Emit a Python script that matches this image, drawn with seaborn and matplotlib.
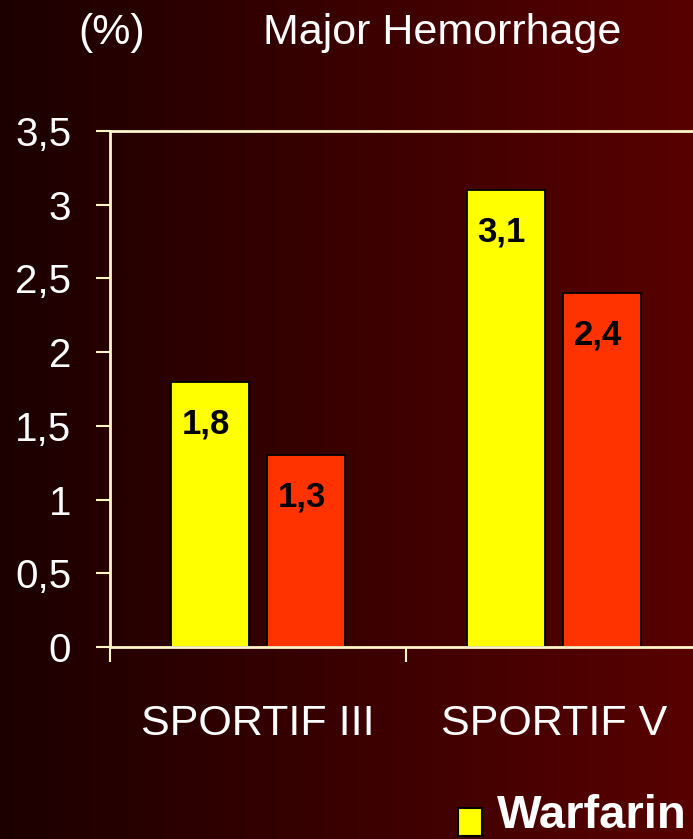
import numpy as np
import pandas as pd
import matplotlib
matplotlib.use("Agg")
import matplotlib.pyplot as plt
from matplotlib.ticker import FuncFormatter, FixedLocator
from matplotlib.patches import Rectangle
from matplotlib.colors import LinearSegmentedColormap
import seaborn as sns

trials = ["SPORTIF III", "SPORTIF V"]
drugs = ["Warfarin", "Ximelagatran"]
warfarin = [1.8, 3.1]
ximelagatran = [1.3, 2.4]
yticks = [0, 0.5, 1, 1.5, 2, 2.5, 3, 3.5]

df = pd.DataFrame({
    "trial": trials * 2,
    "drug": [drugs[0]] * 2 + [drugs[1]] * 2,
    "value": warfarin + ximelagatran,
})

sns.set_theme(style="white")
plt.rcParams["font.family"] = ["Liberation Sans", "DejaVu Sans"]

W, H = 693, 839
fig = plt.figure(figsize=(W / 100, H / 100), dpi=100)

# background gradient
bg = fig.add_axes([0, 0, 1, 1], zorder=-10)
grad = np.linspace(0, 1, 256)[None, :]
cmap = LinearSegmentedColormap.from_list("bg", ["#1c0000", "#3a0000", "#580000"])
bg.imshow(grad, aspect="auto", cmap=cmap, extent=[0, 1, 0, 1])
bg.set_axis_off()

x0, x1 = 110 / W, 1.0
y0, y1 = 1 - 647 / H, 1 - 131 / H
ax = fig.add_axes([x0, y0, x1 - x0, y1 - y0])
ax.set_facecolor("none")

yellow, red = "#FFFF00", "#FF3300"
sns.barplot(data=df, x="trial", y="value", hue="drug", palette=[yellow, red],
            saturation=1, width=0.65, gap=0.19, edgecolor="black", linewidth=1.3,
            legend=False, ax=ax)

ax.set_ylim(0, 3.5)
ax.set_xlim(-0.5, 1.47)
spine_c = "#FFF6C8"
for s in ["left", "top", "bottom"]:
    ax.spines[s].set_visible(True)
    ax.spines[s].set_color(spine_c)
    ax.spines[s].set_linewidth(2)
ax.spines["right"].set_visible(False)

ax.yaxis.set_major_locator(FixedLocator(yticks))
ax.yaxis.set_major_formatter(FuncFormatter(lambda v, p: f"{v:g}".replace(".", ",")))
ax.tick_params(axis="y", which="major", left=True, length=10, width=1.5, color=spine_c,
               labelcolor="white", labelsize=29, pad=18)

ax.xaxis.set_major_locator(FixedLocator([-0.5, 0.5, 1.5]))
ax.xaxis.set_minor_locator(FixedLocator([0, 1]))
ax.set_xticklabels([])
ax.set_xticks([0, 1], labels=trials, minor=True)
ax.tick_params(axis="x", which="major", bottom=True, length=11, width=1.5, color=spine_c)
ax.tick_params(axis="x", which="minor", bottom=True, length=0, labelcolor="white",
               labelsize=31, pad=41)
ax.set_xlabel("")
ax.set_ylabel("")

for p in ax.patches:
    h = p.get_height()
    if h <= 0:
        continue
    ax.text(p.get_x() + p.get_width() / 2 - 0.015, h - 0.285, f"{h:.1f}".replace(".", ","),
            ha="center", va="center", fontsize=25, fontweight="bold", color="black")

fig.text(78 / W, 1 - 44 / H, "(%)", color="white", fontsize=31, va="baseline", ha="left")
fig.text(263 / W, 1 - 44 / H, "Major Hemorrhage", color="white", fontsize=31,
         va="baseline", ha="left")

# legend
fig.patches.append(Rectangle((458 / W, 1 - 836 / H), 24 / W, 28 / H, transform=fig.transFigure,
                             facecolor=yellow, edgecolor="black", linewidth=1.5))
fig.text(497 / W, 1 - 828 / H, "Warfarin", color="white", fontsize=34, fontweight="bold",
         va="baseline", ha="left")

fig.savefig("out.png", dpi=100)
